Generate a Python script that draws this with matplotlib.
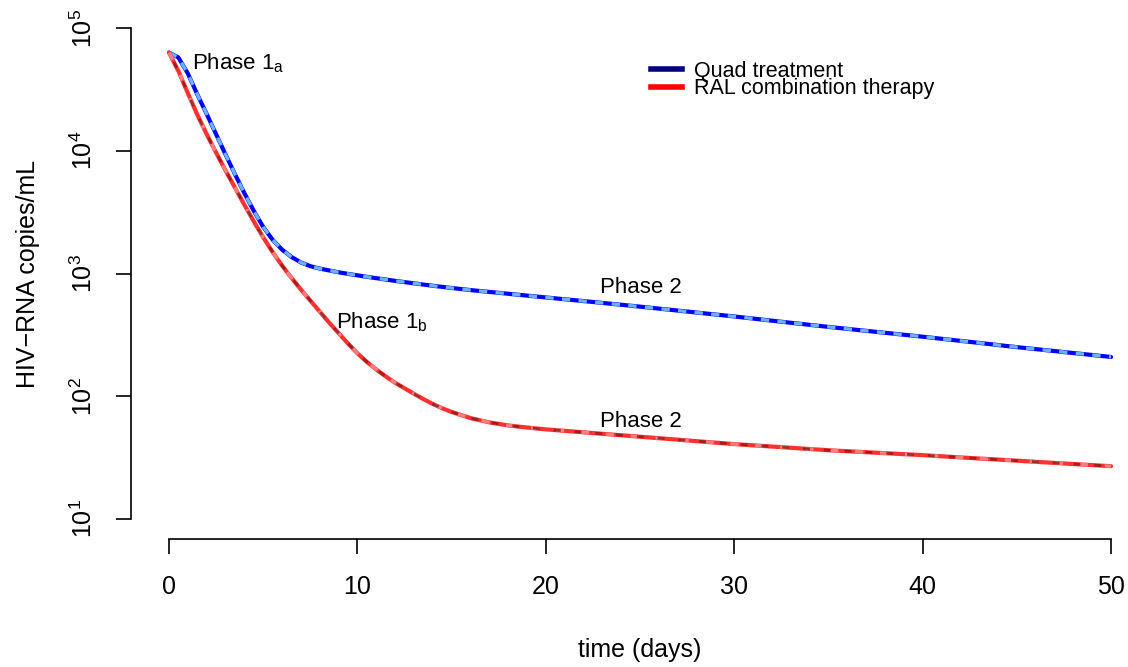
import matplotlib
matplotlib.use("Agg")
import matplotlib.pyplot as plt
import numpy as np

plt.rcParams['font.family'] = ['Liberation Sans', 'DejaVu Sans']
plt.rcParams['mathtext.fontset'] = 'custom'
plt.rcParams['mathtext.rm'] = 'Liberation Sans'
plt.rcParams['mathtext.it'] = 'Liberation Sans'

# Data: days and log10(HIV-RNA copies/mL)
days = [0, 0.5, 1, 1.5, 2, 2.5, 3, 3.5, 4, 4.5, 5, 5.5, 6, 6.5, 7, 7.5,
        8, 8.5, 9, 9.5, 10, 10.5, 11, 11.5, 12, 12.5, 13, 13.5, 14, 14.5, 15,
        16, 17, 18, 19, 20, 22.5, 25, 27.5, 30, 32.5, 35, 37.5, 40, 42.5,
        45, 47.5, 50]
quad_log10 = [4.80, 4.76, 4.63, 4.46, 4.30, 4.135, 3.97, 3.81, 3.655, 3.51,
              3.38, 3.275, 3.195, 3.135, 3.09, 3.06,
              3.04, 3.025, 3.01, 2.997, 2.985, 2.973, 2.962, 2.951, 2.94,
              2.93, 2.92, 2.91, 2.90, 2.891, 2.882,
              2.865, 2.85, 2.835, 2.82, 2.805, 2.768, 2.73, 2.69, 2.65, 2.607,
              2.565, 2.525, 2.485, 2.443, 2.40, 2.36, 2.32]
ral_log10 = [4.80, 4.65, 4.47, 4.295, 4.135, 3.985, 3.84, 3.70, 3.56, 3.425,
             3.295, 3.175, 3.065, 2.965, 2.87, 2.78,
             2.69, 2.60, 2.515, 2.43, 2.35, 2.28, 2.218, 2.162, 2.11,
             2.065, 2.02, 1.977, 1.937, 1.902, 1.872,
             1.822, 1.787, 1.762, 1.745, 1.73, 1.70, 1.67, 1.64, 1.61, 1.585,
             1.56, 1.54, 1.52, 1.497, 1.475, 1.452, 1.43]

legend_labels = ['Quad treatment', 'RAL combination therapy']
yticks = [10, 100, 1000, 10000, 100000]
ytick_labels = ['$10^{1}$', '$10^{2}$', '$10^{3}$', '$10^{4}$', '$10^{5}$']
xticks = [0, 10, 20, 30, 40, 50]

quad = 10 ** np.array(quad_log10)
ral = 10 ** np.array(ral_log10)

fig = plt.figure(figsize=(11.28, 6.67), dpi=100)
ax = fig.add_axes([131.3 / 1128, 1 - 538.6 / 667, 1017.4 / 1128, 530.2 / 667])

# Quad treatment: blue with light blue dashes on top
ax.plot(days, quad, color='#0000ff', lw=3.0, solid_capstyle='round', solid_joinstyle='round')
ax.plot(days, quad, color='#6ab4ff', lw=2.4, linestyle=(0, (2.5, 2.5)))

# RAL combination: red with light/dark red dashes
ax.plot(days, ral, color='#ff3030', lw=3.0, solid_capstyle='round', solid_joinstyle='round')
ax.plot(days, ral, color='#f08080', lw=2.4, linestyle=(0, (2.5, 5)))
ax.plot(days, ral, color='#8b1a1a', lw=2.0, linestyle=(3.75, (2.5, 5)), alpha=0.8)

ax.set_yscale('log')
ax.set_xlim(-2, 52)
ax.set_ylim(10 / 10**0.16, 1e5 * 10**0.16)

ax.set_xticks(xticks)
ax.set_xticklabels([str(t) for t in xticks])
ax.set_yticks(yticks)
ax.set_yticklabels(ytick_labels, rotation=90, va='center')
ax.yaxis.set_minor_locator(matplotlib.ticker.NullLocator())

for s in ['top', 'right']:
    ax.spines[s].set_visible(False)
ax.spines['left'].set_bounds(10, 1e5)
ax.spines['bottom'].set_bounds(0, 50)
ax.spines['left'].set_linewidth(1.2)
ax.spines['bottom'].set_linewidth(1.2)
ax.tick_params(axis='x', length=11, width=1.2, pad=15, labelsize=18)
ax.tick_params(axis='y', length=11, width=1.2, pad=14, labelsize=18)

ax.set_xlabel('time (days)', fontsize=18, labelpad=28)
ax.set_ylabel('HIV\u2212RNA copies/mL', fontsize=18, labelpad=22)

# Phase annotations
ax.text(1.2, 51900, 'Phase 1$_\\mathregular{a}$', fontsize=16, va='center')
ax.text(8.86, 403, 'Phase 1$_\\mathregular{b}$', fontsize=16, va='center')
ax.text(22.88, 776, 'Phase 2', fontsize=16, va='center')
ax.text(22.88, 62, 'Phase 2', fontsize=16, va='center')

h1, = ax.plot([], [], color='#000080', lw=4)
h2, = ax.plot([], [], color='#ff0000', lw=4)
ax.legend([h1, h2], legend_labels, loc='upper left', frameon=False,
          bbox_to_anchor=(651 / 1128, 1 - 61 / 667), bbox_transform=fig.transFigure,
          fontsize=15.5, handlelength=1.45, handletextpad=0.55, labelspacing=-0.17,
          borderpad=0, borderaxespad=0)

fig.savefig('out.png', dpi=100)
